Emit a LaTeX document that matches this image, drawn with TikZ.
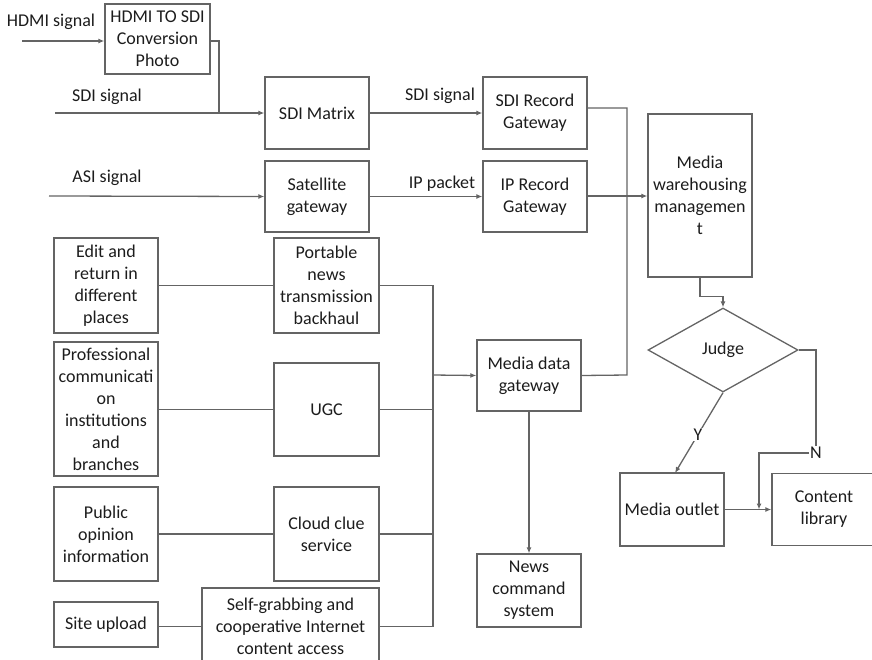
\documentclass[tikz,border=0pt]{standalone}
\usepackage{fontspec}
\setmainfont{Carlito}
\usetikzlibrary{shapes.geometric,arrows.meta}
\definecolor{linegray}{RGB}{100,100,100}
\definecolor{inkgray}{RGB}{28,28,28}
\begin{document}
\begin{tikzpicture}[x=1pt,y=-1pt,
  every node/.style={font=\fontsize{18}{22}\selectfont, text=inkgray},
  box/.style={draw=linegray, line width=1.3pt, inner sep=0pt, align=center,
              minimum width=104pt, minimum height=72pt},
  lbl/.style={inner sep=0pt},
  wire/.style={draw=linegray, line width=1.3pt},
  flow/.style={wire, -{Latex[length=6pt,width=5pt]}}
]
\useasboundingbox (0,0) rectangle (872,659);

% top signal chain
\node[box, minimum width=105pt, minimum height=70pt] (hdmi) at (157.5,39) {HDMI TO SDI\\Conversion\\Photo};
\node[box] (matrix) at (317,113) {SDI Matrix};
\node[box, minimum height=71pt] (sat) at (317,196.5) {Satellite\\gateway};
\node[box] (sdirec) at (535,113) {SDI Record\\Gateway};
\node[box, minimum height=71pt] (iprec) at (535,196.5) {IP Record\\Gateway};
\node[box, minimum height=163pt] (mwm) at (700,195.5) {Media\\warehousing\\managemen\\t};

% decision and outputs
\node[draw=linegray, line width=1.3pt, shape=diamond, inner sep=0pt,
      minimum width=150pt, minimum height=84pt] (dia) at (723,350) {Judge};
\node[box, minimum height=73pt] (outlet) at (672,509.5) {Media outlet};
\node[box, minimum width=112pt] (lib) at (828,509.5) {\hspace*{-8pt}Content\\\hspace*{-8pt}library};

% source boxes on the left
\node[box, minimum height=95pt] (edit) at (106,285.5) {Edit and\\return in\\different\\places};
\node[box, minimum width=105pt, minimum height=95pt] (portable) at (326.5,285.5) {Portable\\news\\transmission\\backhaul};
\node[box, minimum height=134pt] (prof) at (106,409) {Professional\\communicati\\on\\institutions\\and\\branches};
\node[box, minimum width=105pt, minimum height=93pt] (ugc) at (326.5,409.5) {UGC};
\node[box, minimum height=94pt] (public) at (106,534) {Public\\opinion\\information};
\node[box, minimum width=105pt, minimum height=94pt] (cloud) at (326.5,534) {Cloud clue\\service};
\node[box, minimum height=45pt] (site) at (106,624.5) {Site upload};
\node[box, minimum width=177pt, minimum height=76pt] (self) at (290.5,626) {Self-grabbing and\\cooperative Internet\\content access};

% gateways
\node[box, minimum height=71pt] (mdg) at (529,375.5) {Media data\\gateway};
\node[box, minimum height=73pt] (news) at (529,590.5) {News\\command\\system};

% free text labels
\node[lbl] (thdmi) at (51,22) {HDMI signal};
\node[lbl] (tsdi) at (107,97) {SDI signal};
\node[lbl] (tasi) at (107,178) {ASI signal};
\node[lbl] (tsdi2) at (440,96) {SDI signal};
\node[lbl] (tip) at (442,184) {IP packet};

% line end points
\coordinate (hdmiin) at (22,41);
\coordinate (sdiin) at (55,113);
\coordinate (asiin) at (49,196);
\coordinate (tap) at (219,113);
\coordinate (bus) at (433,375);
\coordinate (rbus) at (627,375);
\coordinate (join) at (759,509.5);

% signal inputs
\draw[flow] (hdmiin) -- (hdmiin -| hdmi.west);
\draw[wire] (hdmi.east |- hdmiin) -| (tap);
\draw[flow] (sdiin) -- (matrix.west);
\draw[flow] (asiin) -- (sat.west);
\draw[flow] (matrix.east) -- (sdirec.west);
\draw[flow] (sat.east) -- (iprec.west);

% record gateways into the warehouse
\draw[wire] ([yshift=5pt]sdirec.east) -| (rbus) -- (mdg.east);
\draw[flow] ([yshift=0.5pt]iprec.east) -- ([yshift=0.5pt]iprec.east -| mwm.west);
\draw[flow] (mwm.south) -- ++(0,19) -| (dia.north);

% judge branches
\draw[flow] (dia.south) -- node[lbl, fill=white, inner sep=1pt, pos=0.52] (ylab) {Y} (675,473);
\node[lbl, fill=white, inner sep=1pt] (nlab) at (816,453) {N};
\draw[wire] (dia.east) -| (nlab.north);
\draw[flow] (nlab.west) -| (join);
\draw[flow] (outlet.east) -- (lib.west);

% sources into the media data gateway
\draw[wire] (edit.east |- portable.east) -- (portable.west);
\draw[wire] (prof.east |- ugc.east) -- (ugc.west);
\draw[wire] (public.east) -- (cloud.west);
\draw[wire] ([yshift=-2pt]site.east) -- ([yshift=-2pt]site.east -| self.west);
\draw[wire] (portable.east) -| (bus);
\draw[wire] (ugc.east) -| (bus);
\draw[wire] (cloud.east) -| (bus);
\draw[wire] ([yshift=-2pt]site.east -| self.east) -| (bus);
\draw[flow] (bus) -- (mdg.west);
\draw[flow] (mdg.south) -- (news.north);
\end{tikzpicture}
\end{document}
